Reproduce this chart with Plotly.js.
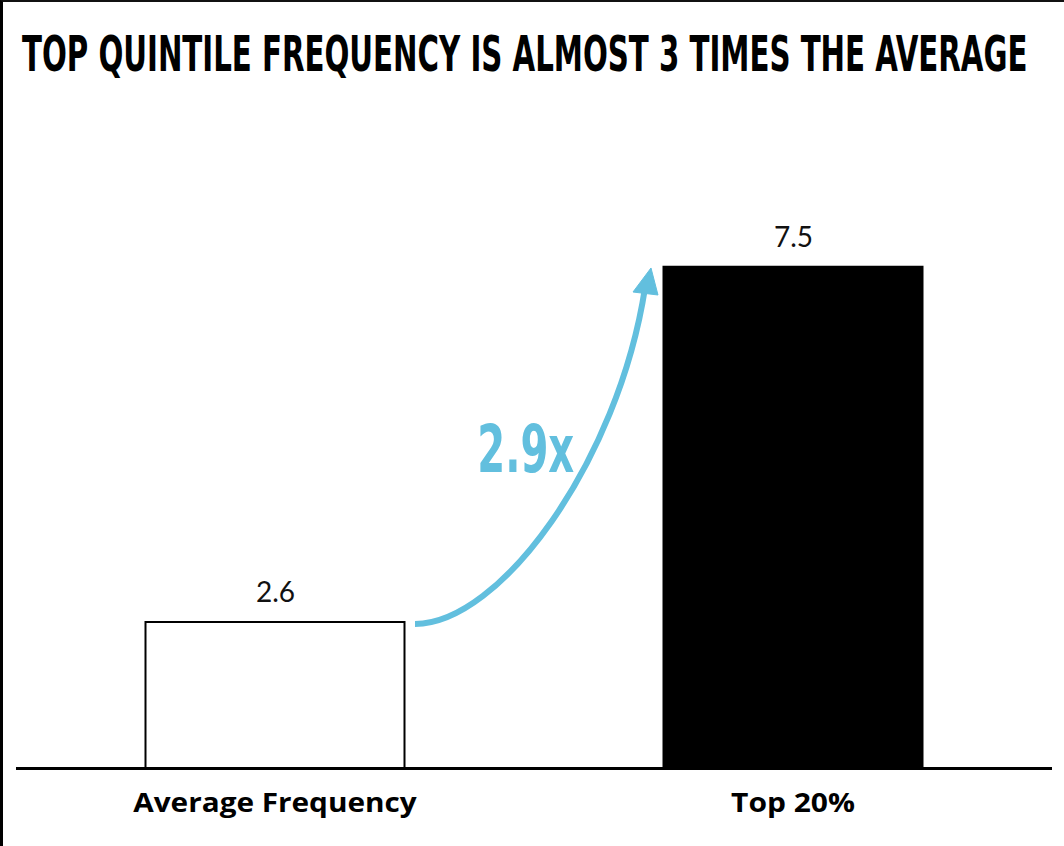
<!DOCTYPE html>
<html>
<head>
<meta charset="utf-8">
<script src="https://cdn.plot.ly/plotly-3.0.1.min.js"></script>
<style>
  html, body { margin: 0; padding: 0; background: #fff; }
  #wrap { position: relative; width: 1064px; height: 846px; }
  #chart { position: absolute; left: 0; top: 0; width: 1064px; height: 846px; }
  #frame { position: absolute; left: 0; top: 0; width: 1064px; height: 846px; box-sizing: border-box;
           border-left: 3px solid #000; border-top: 2px solid #111; pointer-events: none; }
</style>
</head>
<body>
<div id="wrap"><div id="chart"></div><div id="frame"></div></div>
<script>
// ---- data ----
const categories = ["Average Frequency", "Top 20%"];
const values = [2.6, 7.5];
const valueLabels = ["2.6", "7.5"];
const multipleLabel = "2.9x";
const titleText = "TOP QUINTILE FREQUENCY IS ALMOST 3 TIMES THE AVERAGE";

// ---- layout constants ----
const W = 1064, H = 846;
const M = { l: 16, r: 12, t: 100, b: 79 };
const PW = W - M.l - M.r, PH = H - M.t - M.b;
const BLUE = "#62BFDE";
const condensed = "'Liberation Sans Narrow', 'DejaVu Sans Condensed', 'DejaVu Sans', sans-serif";
const sans = "'Open Sans', Lato, sans-serif";

// pixel -> paper helpers for decorative arrow
const px = x => (x - M.l) / PW;
const py = y => (H - M.b - y) / PH;
const P = (x, y) => px(x).toFixed(5) + "," + py(y).toFixed(5);

const trace = {
  type: "bar",
  x: categories,
  y: values,
  width: 0.5,
  marker: { color: ["#ffffff", "#000000"], line: { color: "#000", width: 2 } },
  hoverinfo: "skip",
  cliponaxis: true
};

const annotations = categories.map((c, i) => ({
  x: c, y: values[i], xref: "x", yref: "y",
  text: valueLabels[i], showarrow: false,
  yanchor: "bottom", yshift: 12,
  font: { family: "Lato, sans-serif", size: 28, color: "#111" }
}));
annotations.push({
  xref: "paper", yref: "paper", x: px(525), y: py(449),
  xanchor: "center", yanchor: "middle",
  text: "<b>" + multipleLabel + "</b>", showarrow: false,
  font: { family: condensed, size: 66, color: BLUE, stretch: "condensed" }
});

const shapes = [
  { type: "path", xref: "paper", yref: "paper",
    path: "M" + P(415, 624) + " C" + P(500, 624) + " " + P(618, 462) + " " + P(645, 288),
    line: { color: BLUE, width: 6 }, fillcolor: "rgba(0,0,0,0)", layer: "above" },
  { type: "path", xref: "paper", yref: "paper",
    path: "M" + P(651, 268) + " L" + P(633, 292) + " L" + P(658, 295) + " Z",
    line: { color: BLUE, width: 1 }, fillcolor: BLUE, layer: "above" }
];

const layout = {
  width: W, height: H,
  margin: M,
  paper_bgcolor: "#fff", plot_bgcolor: "#fff",
  showlegend: false,
  title: {
    text: "<b>" + titleText + "</b>",
    x: 22 / W, xanchor: "left", xref: "container",
    y: 1 - 54 / H, yanchor: "middle", yref: "container",
    font: { family: condensed, size: 50, color: "#000", stretch: "condensed" }
  },
  xaxis: {
    type: "category", range: [-0.5, 1.5],
    showline: true, linecolor: "#000", linewidth: 3,
    ticks: "", showgrid: false, zeroline: false,
    ticklabelstandoff: 11,
    tickfont: { family: sans, size: 26, color: "#000", weight: "bold" },
    fixedrange: true
  },
  yaxis: {
    range: [0.6, 9.8], visible: false, showgrid: false, zeroline: false, fixedrange: true
  },
  annotations: annotations,
  shapes: shapes
};

// rescale display text horizontally to the reference's width
function fitWidth(el, targetW, anchor) {
  if (!el) return;
  const bb = el.getBBox();
  if (!bb.width) return;
  const s = targetW / bb.width;
  const cx = anchor === "left" ? bb.x : bb.x + bb.width / 2;
  const prev = el.getAttribute("transform") || "";
  el.setAttribute("transform", prev + " translate(" + cx + ",0) scale(" + s + ",1) translate(" + (-cx) + ",0)");
}

const tickWidths = [284, 124];

Plotly.newPlot("chart", [trace], layout, { staticPlot: true, displayModeBar: false }).then(gd => {
  fitWidth(gd.querySelector(".gtitle"), 1006, "left");
  const ann = gd.querySelectorAll(".annotation-text");
  fitWidth(ann[ann.length - 1], 97, "center");
  gd.querySelectorAll(".xtick text").forEach((t, i) => fitWidth(t, tickWidths[i], "center"));
});
</script>
</body>
</html>
